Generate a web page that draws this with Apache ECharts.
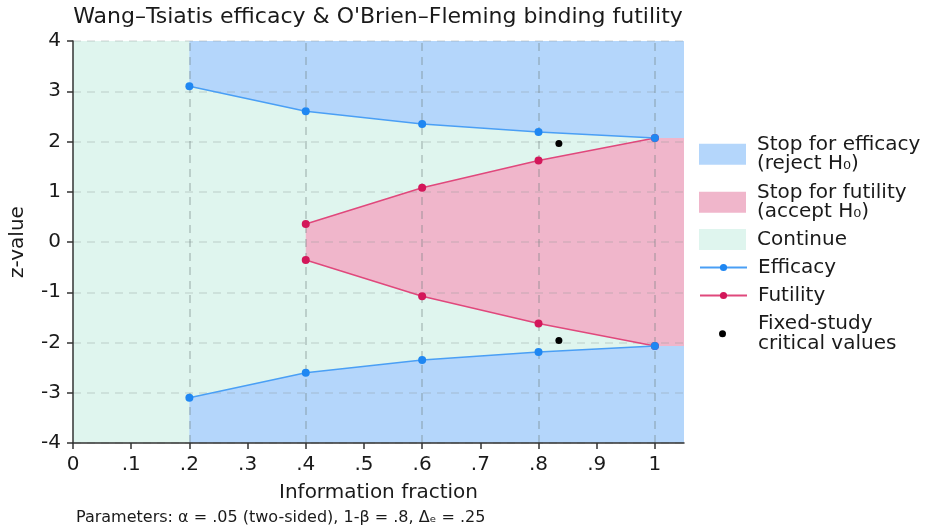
<!DOCTYPE html>
<html><head><meta charset="utf-8">
<script src="https://cdn.jsdelivr.net/npm/echarts@6/dist/echarts.min.js"></script>
<style>html,body{margin:0;padding:0;background:#fff}#c{width:926px;height:528px}</style>
</head><body><div id="c"></div>
<script>
// ---- data ----
const infoFrac = [0.2, 0.4, 0.6, 0.8, 1.0];
const effUpper = [3.10, 2.60, 2.35, 2.19, 2.07];
const effLower = [-3.10, -2.60, -2.35, -2.19, -2.07];
const futFrac = [0.4, 0.6, 0.8, 1.0];
const futUpper = [0.36, 1.08, 1.62, 2.07];
const futLower = [-0.36, -1.08, -1.62, -2.07];
const fixedFrac = [0.835, 0.835];
const fixedZ = [1.96, -1.96];
const xTicks = [0, 0.1, 0.2, 0.3, 0.4, 0.5, 0.6, 0.7, 0.8, 0.9, 1.0];
const xTickLabels = ['0', '.1', '.2', '.3', '.4', '.5', '.6', '.7', '.8', '.9', '1'];
const gridLinesX = [0.2, 0.4, 0.6, 0.8, 1.0];

const X_MIN = 0, X_MAX = 1.05, Y_MIN = -4, Y_MAX = 4;
const FONT = 'DejaVu Sans';
const TXT = '#1a1a1a';

const N_EFF_AREA = 'Stop for efficacy\n(reject H\u2080)';
const N_FUT_AREA = 'Stop for futility\n(accept H\u2080)';
const N_CONT = 'Continue';
const N_EFF = 'Efficacy';
const N_FUT = 'Futility';
const N_FIX = 'Fixed-study\ncritical values';

const C_BLUE = '#b4d6fb', C_PINK = '#f0b6cb', C_GREEN = '#dff5ee';
const C_EFF_LINE = '#4a9ff5', C_EFF_PT = '#1f87f2';
const C_FUT_LINE = '#e0487c', C_FUT_PT = '#d3175a';

const last = a => a[a.length - 1];
const pairs = (xs, ys) => xs.map((x, i) => [x, ys[i]]);

function greenPoly() {
  return [[X_MIN, Y_MIN], [X_MIN, Y_MAX], [X_MAX, Y_MAX], [X_MAX, Y_MIN]];
}
function blueUpper() {
  return [[infoFrac[0], Y_MAX]].concat(pairs(infoFrac, effUpper), [[X_MAX, last(effUpper)], [X_MAX, Y_MAX]]);
}
function blueLower() {
  return [[infoFrac[0], Y_MIN]].concat(pairs(infoFrac, effLower), [[X_MAX, last(effLower)], [X_MAX, Y_MIN]]);
}
function pinkPoly() {
  return pairs(futFrac, futUpper).concat([[X_MAX, last(futUpper)], [X_MAX, last(futLower)]], pairs(futFrac, futLower).reverse());
}

function regionSeries(name, color, polys, z) {
  return {
    name: name, type: 'custom', z: z, silent: true,
    itemStyle: { color: color },
    data: [[X_MIN, 0]],
    renderItem: function (params, api) {
      return {
        type: 'group',
        children: polys.map(fn => ({
          type: 'polygon',
          shape: { points: fn().map(p => api.coord(p)) },
          style: { fill: color }
        }))
      };
    }
  };
}

const legendText = { fontFamily: FONT, fontSize: 20, color: TXT, lineHeight: 19.5, padding: [0, 0, 0, 6] };
function legendAt(name, top, opts) {
  return Object.assign({
    data: [name], orient: 'vertical', left: 699, top: top, padding: 0,
    itemWidth: 47, itemHeight: 21, itemGap: 0, selectedMode: false,
    textStyle: legendText
  }, opts || {});
}

const chart = echarts.init(document.getElementById('c'), null, { renderer: 'canvas' });
chart.setOption({
  animation: false,
  backgroundColor: '#ffffff',
  grid: { left: 72, right: 242, top: 41, bottom: 85, containLabel: false },
  graphic: [
    { type: 'text', x: 378, y: 17, z: 10,
      style: { text: "Wang\u2013Tsiatis efficacy & O'Brien\u2013Fleming binding futility", fontFamily: FONT, fontSize: 22, fill: TXT, align: 'center', verticalAlign: 'middle' } },
    { type: 'text', x: 76, y: 518, z: 10,
      style: { text: 'Parameters: \u03b1 = .05 (two-sided), 1-\u03b2 = .8, \u0394\u2091 = .25', fontFamily: FONT, fontSize: 16, fill: TXT, align: 'left', verticalAlign: 'middle' } }
  ],
  legend: [
    legendAt(N_EFF_AREA, 134.5, { data: [{ name: N_EFF_AREA, icon: 'rect' }] }),
    legendAt(N_FUT_AREA, 182.5, { data: [{ name: N_FUT_AREA, icon: 'rect' }] }),
    legendAt(N_CONT, 229, { data: [{ name: N_CONT, icon: 'rect' }] }),
    legendAt(N_EFF, 257.5, { itemHeight: 9 }),
    legendAt(N_FUT, 285.5, { itemHeight: 9 }),
    legendAt(N_FIX, 314, { data: [{ name: N_FIX, icon: 'circle' }], left: 719, itemWidth: 7, itemHeight: 7,
      textStyle: Object.assign({}, legendText, { padding: [0, 0, 0, 27] }) })
  ],
  xAxis: {
    type: 'value', min: X_MIN, max: X_MAX, z: 2,
    name: 'Information fraction', nameLocation: 'middle', nameGap: 40,
    nameTextStyle: { fontFamily: FONT, fontSize: 20, color: TXT },
    axisLine: { show: true, onZero: false, lineStyle: { color: '#333', width: 1.5 } },
    axisTick: { show: true, length: 6, customValues: xTicks, lineStyle: { color: '#333', width: 1.5 } },
    axisLabel: { customValues: xTicks, margin: 12, fontFamily: FONT, fontSize: 20, color: TXT,
      formatter: function (v) { const i = xTicks.findIndex(t => Math.abs(t - v) < 1e-9); return i >= 0 ? xTickLabels[i] : ''; } },
    splitLine: { show: false }
  },
  yAxis: {
    type: 'value', min: Y_MIN, max: Y_MAX, interval: 1, z: 2,
    name: 'z-value', nameLocation: 'middle', nameGap: 45,
    nameTextStyle: { fontFamily: FONT, fontSize: 20, color: TXT },
    axisLine: { show: true, onZero: false, lineStyle: { color: '#333', width: 1.5 } },
    axisTick: { show: true, length: 6, lineStyle: { color: '#333', width: 1.5 } },
    axisLabel: { margin: 12, fontFamily: FONT, fontSize: 20, color: TXT },
    splitLine: { show: true, lineStyle: { color: 'rgba(140,150,150,0.28)', width: 1.5, type: [8, 6] } }
  },
  series: [
    regionSeries(N_CONT, C_GREEN, [greenPoly], 0),
    regionSeries(N_EFF_AREA, C_BLUE, [blueUpper, blueLower], 1),
    Object.assign(regionSeries(N_FUT_AREA, C_PINK, [pinkPoly], 1), {
      markLine: {
        silent: true, symbol: 'none', z: 2, animation: false,
        label: { show: false },
        lineStyle: { color: 'rgba(110,125,125,0.42)', width: 1.5, type: [8, 6] },
        data: gridLinesX.map(x => ({ xAxis: x }))
      }
    }),
    { name: N_FUT, type: 'line', z: 3, data: pairs(futFrac, futUpper), symbol: 'circle', symbolSize: 8,
      lineStyle: { color: C_FUT_LINE, width: 1.5 }, itemStyle: { color: C_FUT_PT } },
    { name: N_FUT, type: 'line', z: 3, data: pairs(futFrac, futLower), symbol: 'circle', symbolSize: 8,
      lineStyle: { color: C_FUT_LINE, width: 1.5 }, itemStyle: { color: C_FUT_PT } },
    { name: N_EFF, type: 'line', z: 4, data: pairs(infoFrac, effUpper), symbol: 'circle', symbolSize: 8,
      lineStyle: { color: C_EFF_LINE, width: 1.5 }, itemStyle: { color: C_EFF_PT } },
    { name: N_EFF, type: 'line', z: 4, data: pairs(infoFrac, effLower), symbol: 'circle', symbolSize: 8,
      lineStyle: { color: C_EFF_LINE, width: 1.5 }, itemStyle: { color: C_EFF_PT } },
    { name: N_FIX, type: 'scatter', z: 5, data: pairs(fixedFrac, fixedZ), symbol: 'circle', symbolSize: 7,
      itemStyle: { color: '#000000', opacity: 1 } }
  ]
});
</script>
</body></html>
